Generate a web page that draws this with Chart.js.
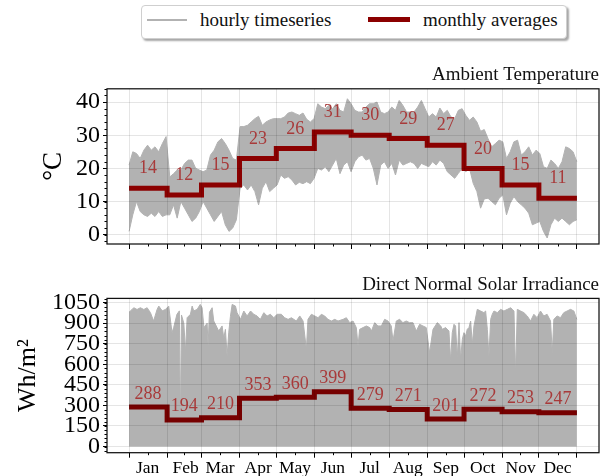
<!DOCTYPE html>
<html>
<head>
<meta charset="utf-8">
<script src="https://cdn.jsdelivr.net/npm/chart.js@4.4.1/dist/chart.umd.min.js"></script>
<style>
  html, body { margin: 0; padding: 0; background: #fff; }
  body { width: 609px; height: 476px; position: relative; overflow: hidden;
         font-family: "Liberation Serif", "Times New Roman", serif; color: #111; }
  #legend { position: absolute; left: 141px; top: 5px; width: 426px; height: 34px;
            box-sizing: border-box; border: 1px solid #cfcfcf; border-radius: 4px;
            background: #fff; box-shadow: 2px 2px 2px rgba(0,0,0,0.35); }
  #legend .key { position: absolute; }
  #legend .grey { left: 5px; top: 13px; width: 40px; height: 2px; background: #b2b2b2; }
  #legend .red { left: 226px; top: 11px; width: 42px; height: 5px; background: #8b0000; }
  #legend .txt { position: absolute; top: 4px; font-size: 19px; line-height: 19px; white-space: nowrap; }
  canvas { position: absolute; left: 0; }
  #tempChart { top: 60px; }
  #dniChart { top: 262px; }
</style>
</head>
<body>
<div id="legend">
  <span class="key grey"></span><span class="txt" style="left:58px">hourly timeseries</span>
  <span class="key red"></span><span class="txt" style="left:281px">monthly averages</span>
</div>
<canvas id="tempChart" width="609" height="195"></canvas>
<canvas id="dniChart" width="609" height="214"></canvas>
<script>
// ---- data ----
const months = ['Jan', 'Feb', 'Mar', 'Apr', 'May', 'Jun', 'Jul', 'Aug', 'Sep', 'Oct', 'Nov', 'Dec'];
const monthStarts = [0, 31, 59, 90, 120, 151, 181, 212, 243, 273, 304, 334, 365]; // day of year
const tempTicks = [0, 10, 20, 30, 40];
const dniTicks = [0, 150, 300, 450, 600, 750, 900, 1050];

// monthly averages
const tempMonthly = [14, 12, 15, 23, 26, 31, 30, 29, 27, 20, 15, 11];          // °C
const dniMonthly = [288, 194, 210, 353, 360, 399, 279, 271, 201, 272, 253, 247]; // Wh/m2

// ambient temperature: daily high / low envelope of the hourly series, every ~3 days
const tempHigh = [
  21, 25, 24.5, 23, 25.5, 27, 25.5, 26.5, 25, 27.5, 29.6, 17.4, 18.4, 19.5, 19.5, 21.5, 22.5, 22.5, 20, 19.5,
  19, 19.5, 24, 25.5, 28, 29, 27.5, 25.5, 23, 22.5, 32.6, 32.6, 33, 34, 35, 35.7, 33, 34, 34.6, 35,
  35, 35, 35.5, 36.7, 37, 36.5, 36, 36.7, 34.8, 34, 35, 39.5, 38.5, 38, 39, 38, 39.5, 37.5, 37, 41,
  39.5, 37.5, 37, 37, 38.5, 39.5, 39.5, 40, 37, 36.5, 37, 38.5, 37.5, 40.5, 39, 37, 37, 37, 38.5, 40.5,
  38, 35.5, 36.5, 35.5, 38.2, 36.5, 37.5, 35.5, 35, 37.5, 38, 36, 34.5, 35.5, 34, 31.2, 31.7, 29, 26.5, 27.5,
  28.5, 28, 23, 25, 28, 28.5, 24, 25, 26.5, 24, 25.5, 24.5, 20.5, 20, 22.5, 21.5, 20, 22, 26.5, 26,
  25, 22
];
const tempLow = [
  1, 6, 10, 7, 6, 5.5, 6.5, 5.5, 7, 5.5, 6, 6, 9, 5, 10, 8, 6, 4, 5, 7,
  10, 8, 6, 4, 5.5, 7, 3, 1, 2, 4.5, 14, 15, 13.5, 15, 13, 9, 14, 16, 13, 14,
  15, 18, 17, 17.5, 16.5, 15, 15.8, 15.4, 16, 15.4, 17, 20, 19.5, 20.5, 19, 21, 23, 18.4, 21, 22,
  19, 22, 23.5, 24, 22.5, 23, 20, 15, 21, 22, 20, 21.5, 18, 22.5, 21, 21.5, 22, 21.5, 20, 21.5,
  21, 20.5, 22, 21, 22.5, 21.5, 19, 18, 17, 18.5, 20, 19, 20, 15.5, 13, 8, 10.8, 11, 10, 9,
  11, 12, 6, 9.5, 11.5, 10, 9, 8, 6.5, 3, 3.5, 4, 1, -1, 3, 5, 4, 5, 4, 3,
  4, 4.5
];

// direct normal irradiance: daily peak of the hourly series (nights fall to 0)
const dniDays = [
  0, 2.4, 3.8, 6.5, 9.2, 12, 14.7, 17.4, 20, 22.8, 24.2, 27, 29.6, 32.3, 35, 36.4, 39, 41, 41.8, 42.7,
  44.6, 46, 47.3, 50, 51.4, 52.7, 55.4, 58, 59.5, 61, 63.6, 64.4, 65.5, 67.7, 69, 71.7, 73, 75.8, 77.2, 78.5,
  79.9, 81.2, 82.6, 84, 86.7, 88, 90.8, 93.5, 96.2, 99, 101.6, 104.3, 107, 109.8, 112.5, 115.2, 118, 120.6, 124.1, 126.8,
  129.6, 132.3, 136.3, 139.1, 141.8, 144.5, 145.8, 148.6, 151.3, 154, 156.7, 159.4, 162.1, 164.9, 167.6, 170.3, 174.4, 177.1, 179.8, 182.5,
  185.2, 186.6, 187.9, 190.7, 193.4, 196.1, 197.5, 200.2, 202.9, 205.6, 208.3, 211, 213.7, 215.1, 217.8, 220.5, 223.2, 225.9, 228.6, 231.4,
  234.1, 236.8, 239.5, 242.2, 244.9, 247.7, 251.2, 254, 255.3, 258, 260.7, 262.1, 263.4, 264.8, 266.1, 267.5, 268.9, 270.2, 271.6, 272.9,
  274.3, 275.6, 277, 278.4, 279.7, 281.1, 283.8, 286.5, 289.2, 290.6, 292, 293.3, 294.7, 296, 297.4, 300.1, 302.8, 305.5, 308.3, 311,
  312.3, 313.7, 315, 316.4, 319.1, 321.8, 324.5, 327.2, 329.9, 332.6, 335.3, 338, 340.7, 343.5, 344.9, 346.2, 348.9, 351.6, 354.3, 357,
  359.8, 362.5, 364.9
];
const dniPeaks = [
  980, 1000, 1013, 1000, 1013, 1000, 1013, 977, 916, 1000, 1025, 990, 1000, 1025, 831, 870, 965, 990, 126, 960,
  900, 697, 940, 965, 1025, 990, 1000, 1037, 1013, 868, 900, 734, 980, 1013, 916, 868, 843, 880, 790, 855,
  661, 830, 950, 1037, 1025, 977, 928, 989, 953, 989, 965, 953, 928, 977, 953, 965, 940, 965, 965, 940,
  928, 940, 916, 953, 916, 710, 928, 965, 953, 940, 965, 953, 928, 916, 928, 916, 928, 940, 904, 916,
  868, 734, 855, 868, 880, 868, 843, 904, 880, 880, 928, 916, 880, 770, 916, 928, 904, 916, 904, 904,
  843, 892, 880, 868, 685, 855, 904, 880, 855, 868, 843, 625, 831, 892, 880, 649, 904, 637, 782, 831,
  807, 855, 868, 916, 746, 880, 1001, 989, 977, 989, 855, 661, 928, 965, 989, 977, 1001, 989, 1001, 1013,
  1001, 989, 527, 1001, 989, 977, 953, 916, 965, 940, 989, 953, 965, 916, 685, 928, 953, 940, 977, 989,
  1001, 989, 928
];

// ---- styling ----
const SERIF = "'Liberation Serif', 'Times New Roman', 'DejaVu Serif', serif";
const GREY = '#b2b2b2';
const GRID = 'rgba(0,0,0,0.1)';
const LABEL_RED = '#a83a3a';

Chart.defaults.font.family = SERIF;
Chart.defaults.color = '#000';

const tempDays = tempHigh.map((_, i) => i * 364.9 / (tempHigh.length - 1));
const xy = (xs, ys) => xs.map((x, i) => ({ x, y: ys[i] }));

// monthly average as a step line from the first to the last day of the year
function stepPoints(avgs) {
  const pts = avgs.map((v, i) => ({ x: monthStarts[i], y: v }));
  pts.push({ x: monthStarts[12], y: avgs[avgs.length - 1] });
  return pts;
}

// plot frame, minor ticks and the monthly value annotations
const frameAndMarks = {
  id: 'frameAndMarks',
  afterDraw(chart, args, o) {
    const { ctx, chartArea: a } = chart;
    const x = chart.scales.x, y = chart.scales.y;
    ctx.save();
    ctx.strokeStyle = '#000';
    ctx.lineWidth = 1;
    ctx.beginPath();
    const first = Math.ceil(y.min / o.minorStep) * o.minorStep;
    for (let v = first; v <= y.max; v += o.minorStep) {
      const py = Math.round(y.getPixelForValue(v)) + 0.5;
      ctx.moveTo(a.left - 2.5, py);
      ctx.lineTo(a.left, py);
    }
    for (let i = 0; i < 12; i++) {
      const px = Math.round(x.getPixelForValue((monthStarts[i] + monthStarts[i + 1]) / 2)) + 0.5;
      ctx.moveTo(px, a.bottom);
      ctx.lineTo(px, a.bottom + 2.5);
    }
    ctx.stroke();

    ctx.lineWidth = 1.25;
    ctx.strokeStyle = '#111';
    ctx.strokeRect(a.left, a.top, a.right - a.left, a.bottom - a.top);

    ctx.fillStyle = LABEL_RED;
    ctx.font = `18px ${SERIF}`;
    ctx.textAlign = 'center';
    ctx.textBaseline = 'middle';
    o.values.forEach((v, i) => {
      const px = x.getPixelForValue((monthStarts[i] + monthStarts[i + 1]) / 2);
      const py = y.getPixelForValue(v) - o.lift;
      ctx.fillText(String(v), px, py);
    });
    ctx.restore();
  }
};

function gridOpts(len) {
  return { color: GRID, z: 1, drawTicks: true, tickLength: len, tickColor: '#000', tickWidth: 1 };
}

function makeChart(id, cfg) {
  return new Chart(document.getElementById(id), {
    type: 'line',
    data: { datasets: cfg.datasets },
    options: {
      responsive: false,
      devicePixelRatio: 1,
      animation: false,
      events: [],
      layout: { padding: { left: 0, right: 10, top: cfg.padTop, bottom: 0 } },
      elements: { point: { radius: 0 }, line: { tension: 0 } },
      plugins: {
        legend: { display: false },
        tooltip: { enabled: false },
        title: {
          display: true, text: cfg.title, align: 'end', color: '#111',
          font: { family: SERIF, size: 19, weight: 'normal' },
          padding: { top: 0, bottom: 2 }
        },
        frameAndMarks: { minorStep: cfg.minorStep, values: cfg.monthly, lift: cfg.lift }
      },
      scales: {
        x: {
          type: 'linear', min: -18, max: 383,
          afterBuildTicks: s => { s.ticks = monthStarts.map(v => ({ value: v })); },
          afterFit: s => { s.height = cfg.xHeight; s.paddingLeft = 0; s.paddingRight = 0; },
          grid: gridOpts(5),
          border: { display: false },
          ticks: cfg.xLabels
            ? { display: true, autoSkip: false, maxRotation: 0, padding: 0, labelOffset: 18.6,
                font: { family: SERIF, size: 17.5 }, color: '#000',
                callback: (v, i) => (i < 12 ? months[i] : '') }
            : { display: false }
        },
        y: {
          type: 'linear', min: cfg.yMin, max: cfg.yMax,
          afterBuildTicks: s => { s.ticks = cfg.yTicks.map(v => ({ value: v })); },
          // fixed axis width; tick labels may overhang the plot edges
          afterFit: s => { s.width = 107; s.paddingTop = 0; s.paddingBottom = 0; },
          grid: gridOpts(4),
          border: { display: false },
          ticks: { font: { family: SERIF, size: 24 }, color: '#000', padding: 3, autoSkip: false,
                   callback: v => String(v) },
          title: {
            display: true, text: cfg.yTitle, color: '#000',
            font: { family: SERIF, size: cfg.yTitleSize },
            padding: { top: cfg.yTitlePad, bottom: 0 }
          }
        }
      }
    },
    plugins: [frameAndMarks]
  });
}

function drawAll() {
  makeChart('tempChart', {
    title: 'Ambient Temperature',
    padTop: 4,
    xHeight: 11,
    xLabels: false,
    yMin: -2.8, yMax: 44,
    yTicks: tempTicks,
    yTitle: '°C', yTitleSize: 27, yTitlePad: 38,
    minorStep: 2,
    monthly: tempMonthly,
    lift: 19.6,
    datasets: [
      { label: 'monthly averages', data: stepPoints(tempMonthly), stepped: 'before',
        borderColor: '#8b0000', borderWidth: 5, borderJoinStyle: 'miter', fill: false },
      { label: 'hourly timeseries', data: xy(tempDays, tempHigh),
        borderColor: GREY, backgroundColor: GREY, borderWidth: 1, fill: '+1' },
      { label: 'hourly low', data: xy(tempDays, tempLow),
        borderColor: GREY, borderWidth: 1, fill: false }
    ]
  });

  makeChart('dniChart', {
    title: 'Direct Normal Solar Irradiance',
    padTop: 11.6,
    xHeight: 23.3,
    xLabels: true,
    yMin: -45, yMax: 1081,
    yTicks: dniTicks,
    yTitle: 'Wh/m²', yTitleSize: 26, yTitlePad: 13,
    minorStep: 30,
    monthly: dniMonthly,
    lift: 13.2,
    datasets: [
      { label: 'monthly averages', data: stepPoints(dniMonthly), stepped: 'before',
        borderColor: '#760000', borderWidth: 5, borderJoinStyle: 'miter', fill: false },
      { label: 'hourly timeseries', data: xy(dniDays, dniPeaks),
        borderColor: GREY, backgroundColor: GREY, borderWidth: 1, fill: 'origin' }
    ]
  });
}

// make sure the serif face is ready before the canvases render text
Promise.all([
  document.fonts.load("19px 'Liberation Serif'"),
  document.fonts.load("24px 'Liberation Serif'")
]).then(drawAll, drawAll);
</script>
</body>
</html>
